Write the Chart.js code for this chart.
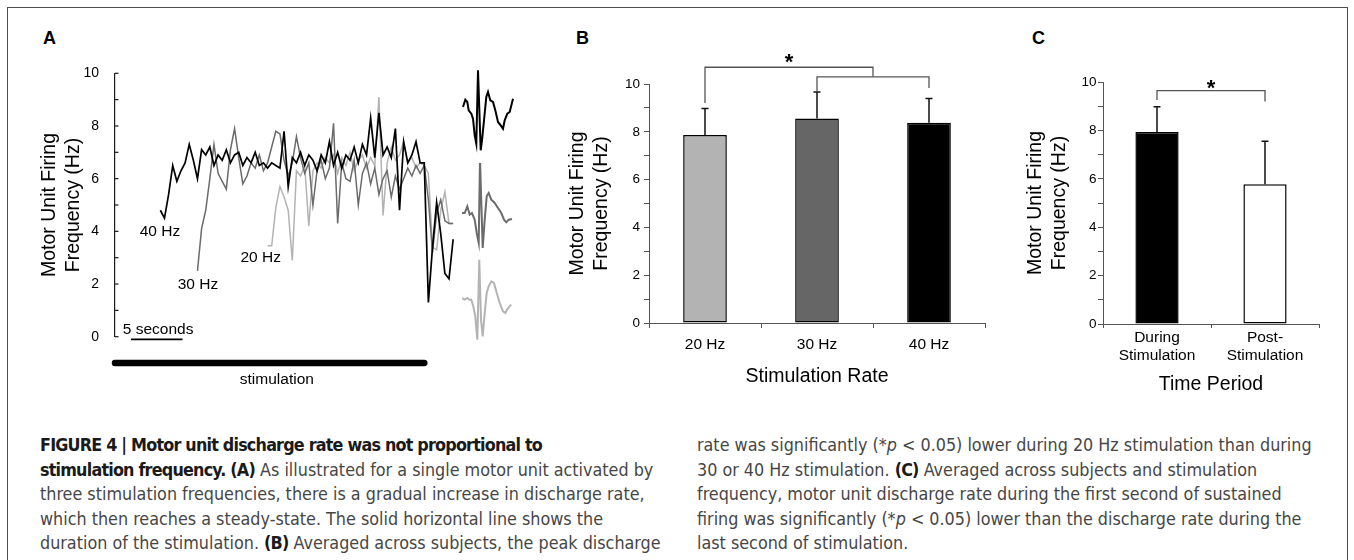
<!DOCTYPE html>
<html><head><meta charset="utf-8"><title>Figure 4</title>
<script src="https://cdn.jsdelivr.net/npm/chart.js@4.4.1/dist/chart.umd.min.js"></script>
<style>
html,body{margin:0;padding:0;background:#fff;}
body{position:relative;width:1354px;height:560px;overflow:hidden;font-family:'Liberation Sans',Arial,Helvetica,sans-serif;color:#000;}
#frame{position:absolute;left:7px;top:7px;width:1341px;height:640px;border:1px solid #4d4d4d;box-sizing:border-box;}
canvas{position:absolute;display:block;}
.panel{position:absolute;font-weight:bold;font-size:18px;line-height:18px;}
.cap{position:absolute;font-family:'DejaVu Sans Condensed','Liberation Sans Narrow',sans-serif;font-size:17.8px;line-height:24.5px;color:#464646;white-space:nowrap;}
.cap b{color:#1a1a1a;letter-spacing:-0.8px;}
</style></head>
<body>
<div id="frame"></div>
<div class="panel" style="left:43px;top:28.5px">A</div>
<div class="panel" style="left:576px;top:28.5px">B</div>
<div class="panel" style="left:1032px;top:28.5px">C</div>
<canvas id="chartA" width="540" height="400" style="left:0;top:0"></canvas>
<canvas id="wave40" width="56" height="100" style="left:462.3px;top:56.7px"></canvas>
<canvas id="wave30" width="56" height="100" style="left:462.3px;top:163.3px"></canvas>
<canvas id="wave20" width="56" height="100" style="left:462.3px;top:248.3px"></canvas>
<canvas id="chartB" width="460" height="400" style="left:540px;top:0"></canvas>
<canvas id="chartC" width="354" height="400" style="left:1000px;top:0"></canvas>
<div class="cap" style="left:40px;top:433px"><b>FIGURE 4 | Motor unit discharge rate was not proportional to</b><br><b>stimulation frequency. (A)</b> As illustrated for a single motor unit activated by<br>three stimulation frequencies, there is a gradual increase in discharge rate,<br>which then reaches a steady-state. The solid horizontal line shows the<br>duration of the stimulation. <b>(B)</b> Averaged across subjects, the peak discharge</div>
<div class="cap" style="left:697px;top:433px">rate was significantly (*<i>p</i> &lt; 0.05) lower during 20 Hz stimulation than during<br>30 or 40 Hz stimulation. <b>(C)</b> Averaged across subjects and stimulation<br>frequency, motor unit discharge rate during the first second of sustained<br>firing was significantly (*<i>p</i> &lt; 0.05) lower than the discharge rate during the<br>last second of stimulation.</div>
<script>
// ---------------- DATA ----------------
// Panel A: single motor unit firing frequency (Hz), sampled every 0.4 s
const sampleStepSec = 0.4;
const hz40StartSec = 4.4;
const hz40Values = [4.8,4.5,5.4,6.5,5.9,6.3,6.6,7.3,6.7,6.0,7.1,6.9,7.2,6.5,6.9,6.7,7.1,6.6,6.9,7.0,
  6.5,6.8,6.6,7.0,6.5,6.6,6.4,6.6,6.5,6.4,7.8,5.7,6.8,6.6,7.0,6.5,6.9,6.7,6.3,6.9,
  6.6,7.4,6.5,7.0,6.4,6.9,6.7,7.2,6.6,7.3,6.9,8.3,6.8,8.5,6.9,7.2,6.8,7.9,4.8,7.4,
  6.6,6.9,7.4,6.6,6.6,1.3,3.4,5.1,3.9,2.4,2.2,3.7];
const hz30StartSec = 8.0;
const hz30Values = [2.5,4.1,4.8,6.0,7.3,6.2,5.9,5.6,7.1,7.9,6.8,5.8,6.1,6.6,6.4,6.9,6.3,6.6,7.2,7.8,
  7.7,6.7,6.1,6.6,7.6,6.8,6.2,6.6,5.0,6.3,6.7,6.0,6.4,8.1,4.3,6.6,6.0,5.9,6.7,5.0,
  6.2,6.6,5.8,6.4,5.4,6.0,6.3,5.3,6.1,5.6,6.0,6.4,6.1,6.5,6.2,6.5,5.2,3.2,4.7,5.2,
  4.4,4.3,4.3];
const hz20StartSec = 14.8;
const hz20Values = [3.45,3.45,4.9,5.7,5.3,4.8,2.9,6.3,6.1,6.5,4.2,6.3,6.6,6.4,6.8,6.6,6.9,6.2,6.8,6.5,
  7.0,6.3,6.7,6.9,6.4,6.8,6.5,9.1,4.6,6.6,7.2,6.7,6.9,7.4,6.6,6.8,6.4,6.6,6.5,6.2,
  3.4,3.3,4.8,5.5,4.3,4.3];
const stimulationWindowSec = [0, 30];
const scaleBarSec = [1.55, 6.55];
const yTicksHz = [0, 2, 4, 6, 8, 10];

// Panel A insets: spike waveforms (time in ms, amplitude in arbitrary units)
const wave40Ms = [0.1,0.33,0.53,0.67,0.93,1.1,1.27,1.43,1.6,1.87,2.0,2.2,2.43,2.6,2.83,3.1,3.33,3.6,3.87,4.1,4.27,4.53,4.77,5.1];
const wave40Amp = [0,2.2,1.5,-1.0,-2.0,-3.5,-8.5,-11.0,11.0,-13.0,-10.0,-4.0,3.0,4.5,2.0,1.5,-1.0,-4.5,-5.5,-6.5,-4.0,-2.0,-1.5,2.5];
const wave30Ms = [0,0.27,0.53,0.77,1.0,1.27,1.47,1.67,1.8,2.07,2.27,2.47,2.67,2.93,3.27,3.6,3.93,4.2,4.43,4.67,5.0];
const wave30Amp = [0,0,2,-0.5,0,-2,-6,-9,16,-10.5,-2,5,6,4,3,1.5,0,-2,-2.8,-2,-1.8];
const wave20Ms = [0,0.27,0.53,0.73,0.93,1.13,1.33,1.53,1.73,1.9,2.07,2.27,2.47,2.67,2.93,3.2,3.47,3.77,4.1,4.33,4.6,4.93];
const wave20Amp = [0,-0.5,0,-0.5,-0.5,-2.5,-5.5,-12.5,11.5,-6.5,-11.5,-4.5,1.5,3.5,5,4.5,1.5,-1.5,-4,-4.5,-3,-2];

// Panel B: peak discharge rate by stimulation rate
const rateLabels = ['20 Hz', '30 Hz', '40 Hz'];
const rateMeans = [7.87, 8.56, 8.38];
const rateErrors = [1.10, 1.11, 1.01];

// Panel C: discharge rate by time period
const periodLabels = [['During', 'Stimulation'], ['Post-', 'Stimulation']];
const periodMeans = [7.93, 5.77];
const periodErrors = [1.05, 1.78];

// ---------------- CHARTS ----------------
Chart.defaults.font.family = "'Liberation Sans', Arial, Helvetica, sans-serif";
Chart.defaults.color = '#000';
Chart.defaults.animation = false;
Chart.defaults.responsive = false;
Chart.defaults.plugins.legend.display = false;
Chart.defaults.plugins.tooltip.enabled = false;

function toPoints(start, values) {
  return values.map((v, i) => ({ x: Math.round((start + i * sampleStepSec) * 100) / 100, y: v }));
}
const evenOnly = v => (yTicksHz.includes(v) ? String(v) : '');
const yTitle = { display: true, text: ['Motor Unit Firing', 'Frequency (Hz)'], font: { size: 19.5, lineHeight: 1.2 }, padding: 0, color: '#000' };

const innerTicks = {
  id: 'innerTicks',
  afterDraw(chart) {
    const ys = chart.scales.y, ctx = chart.ctx;
    ctx.save();
    ctx.strokeStyle = '#1a1a1a';
    ctx.lineWidth = 1.2;
    ys.ticks.forEach(t => {
      const py = ys.getPixelForValue(t.value);
      ctx.beginPath();
      ctx.moveTo(ys.right, py);
      ctx.lineTo(ys.right + 3.5, py);
      ctx.stroke();
    });
    ctx.restore();
  }
};
const traceText = {
  id: 'traceText',
  afterDatasetsDraw(chart) {
    const xs = chart.scales.x, ys = chart.scales.y, ctx = chart.ctx;
    ctx.save();
    ctx.fillStyle = '#000';
    ctx.font = "15.5px 'Liberation Sans', Arial";
    ctx.textBaseline = 'middle';
    const notes = [
      ['40 Hz', 4.36, 3.97, 'center'],
      ['30 Hz', 8.05, 1.96, 'center'],
      ['20 Hz', 14.13, 2.99, 'center'],
      ['5 seconds', 0.75, 0.25, 'left'],
      ['stimulation', 15.7, -1.64, 'center']
    ];
    notes.forEach(([txt, x, y, al]) => {
      ctx.textAlign = al;
      ctx.fillText(txt, xs.getPixelForValue(x), ys.getPixelForValue(y));
    });
    ctx.restore();
  }
};

new Chart(document.getElementById('chartA'), {
  type: 'line',
  data: {
    datasets: [
      { label: '40 Hz', data: toPoints(hz40StartSec, hz40Values), borderColor: '#000000', borderWidth: 1.7, pointRadius: 0, tension: 0, clip: false },
      { label: '30 Hz', data: toPoints(hz30StartSec, hz30Values), borderColor: '#6b6b6b', borderWidth: 1.5, pointRadius: 0, tension: 0, clip: false },
      { label: '20 Hz', data: toPoints(hz20StartSec, hz20Values), borderColor: '#b3b3b3', borderWidth: 1.5, pointRadius: 0, tension: 0, clip: false },
      { label: 'stimulation', data: stimulationWindowSec.map(t => ({ x: t, y: -1 })), borderColor: '#000', borderWidth: 6.5, borderCapStyle: 'round', pointRadius: 0, clip: false },
      { label: '5 seconds', data: scaleBarSec.map(t => ({ x: t, y: -0.1 })), borderColor: '#000', borderWidth: 1.8, pointRadius: 0, clip: false }
    ]
  },
  options: {
    layout: { padding: { left: 38.25, top: 73.3, right: 74.5, bottom: 63.3 } },
    scales: {
      x: { type: 'linear', min: 0, max: 34, display: false },
      y: {
        min: 0, max: 10,
        ticks: { stepSize: 1, autoSkip: false, callback: evenOnly, font: { size: 14 }, padding: 8, color: '#000' },
        grid: { display: false },
        border: { display: true, color: '#1a1a1a', width: 1.2 },
        title: yTitle,
        afterFit(s) { s.width = 76.75; }
      }
    }
  },
  plugins: [innerTicks, traceText]
});

function waveChart(id, times, amps, color) {
  new Chart(document.getElementById(id), {
    type: 'line',
    data: { datasets: [{ data: times.map((t, i) => ({ x: t, y: amps[i] })), borderColor: color, borderWidth: 2, pointRadius: 0, tension: 0, clip: false }] },
    options: {
      layout: { padding: 0 },
      scales: { x: { type: 'linear', min: 0, max: 5.6, display: false }, y: { min: -15, max: 15, display: false } }
    }
  });
}
waveChart('wave40', wave40Ms, wave40Amp, '#000000');
waveChart('wave30', wave30Ms, wave30Amp, '#6b6b6b');
waveChart('wave20', wave20Ms, wave20Amp, '#b3b3b3');

function errorBars(errors) {
  return {
    id: 'errorBars',
    afterDatasetsDraw(chart) {
      const meta = chart.getDatasetMeta(0), ys = chart.scales.y, ctx = chart.ctx;
      const vals = chart.data.datasets[0].data;
      ctx.save();
      ctx.strokeStyle = '#111';
      ctx.lineWidth = 1.5;
      meta.data.forEach((bar, i) => {
        const yTop = ys.getPixelForValue(vals[i] + errors[i]);
        const yBase = ys.getPixelForValue(vals[i]);
        ctx.beginPath();
        ctx.moveTo(bar.x, yBase); ctx.lineTo(bar.x, yTop);
        ctx.moveTo(bar.x - 3.5, yTop); ctx.lineTo(bar.x + 3.5, yTop);
        ctx.stroke();
      });
      ctx.restore();
    }
  };
}
function brackets(list, star) {
  return {
    id: 'brackets',
    afterDatasetsDraw(chart) {
      const xs = chart.scales.x, ys = chart.scales.y, ctx = chart.ctx;
      ctx.save();
      ctx.strokeStyle = '#555';
      ctx.lineWidth = 1.3;
      list.forEach(b => {
        const x1 = xs.getPixelForValue(b.from), x2 = xs.getPixelForValue(b.to), yt = ys.getPixelForValue(b.top);
        ctx.beginPath();
        ctx.moveTo(x1, ys.getPixelForValue(b.leftEnd));
        ctx.lineTo(x1, yt); ctx.lineTo(x2, yt);
        ctx.lineTo(x2, ys.getPixelForValue(b.rightEnd));
        ctx.stroke();
      });
      ctx.fillStyle = '#000';
      ctx.font = "bold 22px 'Liberation Sans', Arial";
      ctx.textAlign = 'center';
      ctx.textBaseline = 'alphabetic';
      ctx.fillText('*', xs.getPixelForValue(star.x), ys.getPixelForValue(star.y) + 12.5);
      ctx.restore();
    }
  };
}

new Chart(document.getElementById('chartB'), {
  type: 'bar',
  data: {
    labels: rateLabels,
    datasets: [{ data: rateMeans, backgroundColor: ['#b3b3b3', '#666666', '#000000'], borderColor: '#000', borderWidth: 1.5, borderSkipped: false, barPercentage: 0.39, categoryPercentage: 1 }]
  },
  options: {
    layout: { padding: { left: 26.3, top: 84, right: 15, bottom: 11.3 } },
    scales: {
      x: {
        offset: true,
        grid: { display: true, drawOnChartArea: false, offset: true, tickLength: 5, color: '#555' },
        border: { color: '#555', width: 1 },
        ticks: { font: { size: 15.5 }, padding: 7.7, color: '#000' },
        title: { display: true, text: 'Stimulation Rate', font: { size: 19.5 }, padding: 0, color: '#000' },
        afterFit(s) { s.height = 65.7; }
      },
      y: {
        min: 0, max: 10,
        ticks: { stepSize: 1, autoSkip: false, callback: evenOnly, font: { size: 13.5 }, padding: 4, color: '#000' },
        grid: { display: true, drawOnChartArea: false, tickLength: 5, color: '#555' },
        border: { color: '#555', width: 1 },
        title: yTitle,
        afterFit(s) { s.width = 82.7; }
      }
    }
  },
  plugins: [errorBars(rateErrors), brackets([
    { from: 0, to: 1.5, top: 10.7, leftEnd: 9.2, rightEnd: 10.3 },
    { from: 1, to: 2, top: 10.3, leftEnd: 9.67, rightEnd: 9.83 }
  ], { x: 0.75, y: 11.13 })]
});

new Chart(document.getElementById('chartC'), {
  type: 'bar',
  data: {
    labels: periodLabels,
    datasets: [{ data: periodMeans, backgroundColor: ['#000000', '#ffffff'], borderColor: '#000', borderWidth: 1.5, borderSkipped: false, barPercentage: 0.4, categoryPercentage: 1 }]
  },
  options: {
    layout: { padding: { left: 24.3, top: 82, right: 35, bottom: 3.3 } },
    scales: {
      x: {
        offset: true,
        grid: { display: true, drawOnChartArea: false, offset: true, tickLength: 4, color: '#555' },
        border: { color: '#555', width: 1 },
        ticks: { font: { size: 15.5, lineHeight: 1.16 }, padding: 1, color: '#000' },
        title: { display: true, text: 'Time Period', font: { size: 19.5 }, padding: 0, color: '#000' },
        afterFit(s) { s.height = 72.7; }
      },
      y: {
        min: 0, max: 10,
        ticks: { stepSize: 1, autoSkip: false, callback: evenOnly, font: { size: 13.5 }, padding: 1.5, color: '#000' },
        grid: { display: true, drawOnChartArea: false, tickLength: 5, color: '#555' },
        border: { color: '#555', width: 1 },
        title: yTitle,
        afterFit(s) { s.width = 78.7; }
      }
    }
  },
  plugins: [errorBars(periodErrors), brackets([
    { from: 0, to: 1, top: 9.64, leftEnd: 9.26, rightEnd: 9.19 }
  ], { x: 0.5, y: 10.0 })]
});
</script>
</body></html>
